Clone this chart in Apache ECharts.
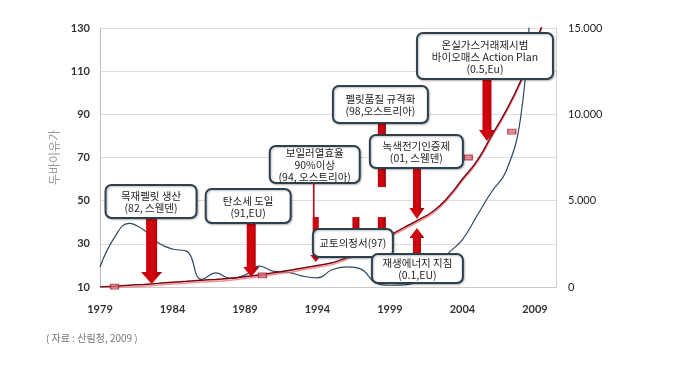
<!DOCTYPE html>
<html><head><meta charset="utf-8">
<script src="https://cdn.jsdelivr.net/npm/echarts@6/dist/echarts.min.js"></script>
<style>html,body{margin:0;padding:0;background:#fff}#c{width:683px;height:369px}</style>
</head><body><div id="c"></div>
<script>
// ---- data ----
const years = [1979,1980,1981,1982,1983,1984,1985,1986,1987,1988,1989,1990,1991,1992,1993,1994,1995,1996,1997,1998,1999,2000,2001,2002,2003,2004,2005,2006,2007,2008,2009,2010];
const oilPrice = [19.3,33,39.5,36.5,30.5,27.6,26.5,13.5,16.5,14,15.5,19.7,17.2,16.8,15,14.2,18,19.3,18.3,12,10.8,11,13,18,25.5,32,43,54,63.5,88,155,180];
const pelletProduction = [0,50,100,150,210,280,330,390,440,500,600,700,830,950,1100,1250,1400,1700,2050,2500,3000,3450,3900,4400,5200,6250,7300,8750,10200,11900,14000,16500];
const markerYears = [1980,1990.2,2004.4,2007.4];
const markerValues = [10.2,15.4,70,82];
const xTicks = [1979,1984,1989,1994,1999,2004,2009];
const leftAxisName = '두바이유가';
const sourceText = '( 자료 : 산림청, 2009 )';

const noteTexts = [
  '목재펠릿 생산\n(82, 스웬덴)',
  '탄소세 도일\n(91,EU)',
  '보일러열효율\n90%이상\n(94, 오스트리아)',
  '펠릿품질 규격화\n(98,오스트리아)',
  '녹색전기인증제\n(01, 스웬덴)',
  '교토의정서(97)',
  '재생에너지 지침\n(0.1,EU)',
  '온실가스거래제시범\n바이오매스 Action Plan\n(0.5,Eu)'
];
// annotation anchor (year, left-axis value) and box size
const noteYears = [1982.52,1989.22,1993.81,1998.34,2000.82,1996.44,2000.89,2005.55];
const noteValues = [49.6,47.5,66.75,94.55,72.8,30.4,18.6,117.0];
const noteSize = [[91,33],[85,34],[90,37],[95,37],[93,33],[80,28],[91,29],[136,46]];

// arrows: year, from value, to value (left axis) ; style [shaft, headW, headL]
const arrowYears = [1982.56,1989.43,1993.74,1993.88,1996.65,1998.44,1998.44,2000.86,2000.86,2005.69];
const arrowFrom  = [42.0,39.65,58.2,42.4,42.4,86.4,42.4,65.1,24.8,106.4];
const arrowTo    = [11.4,14.6,23.4,21.6,31.8,56.3,31.8,41.5,37.3,77.6];
const arrowStyle = [[11,21,12],[9,16,10],[1.6,0,0],[6,11,7],[7,0,0],[8,0,0],[8,0,0],[8,15,11],[8,15,10],[9,16,11]];

const chart = echarts.init(document.getElementById('c'));
const FONT = 'Lato';
const KR = '"Noto Sans CJK KR"';

function renderArrow(params, api) {
  const i = params.dataIndex;
  const a = api.coord([api.value(0), api.value(1)]);
  const b = api.coord([api.value(0), api.value(2)]);
  const st = arrowStyle[i];
  const x = a[0];
  const dir = b[1] > a[1] ? 1 : -1;
  const sw = st[0] / 2, hw = st[1] / 2, hl = st[2];
  let pts;
  if (hl > 0) {
    const by = b[1] - dir * hl;
    pts = [[x - sw, a[1]], [x + sw, a[1]], [x + sw, by], [x + hw, by], [x, b[1]], [x - hw, by], [x - sw, by]];
  } else {
    pts = [[x - sw, a[1]], [x + sw, a[1]], [x + sw, b[1]], [x - sw, b[1]]];
  }
  return {
    type: 'polygon', shape: { points: pts },
    style: { fill: new echarts.graphic.LinearGradient(0, 0, 1, 0, [
      { offset: 0, color: '#c00008' }, { offset: 0.55, color: '#d6060e' }, { offset: 1, color: '#8e0006' }]) }
  };
}

function renderNote(params, api) {
  const i = params.dataIndex;
  const c = api.coord([api.value(0), api.value(1)]);
  const w = noteSize[i][0], h = noteSize[i][1];
  return {
    type: 'group',
    children: [
      { type: 'rect', shape: { x: c[0] - w / 2, y: c[1] - h / 2, width: w, height: h, r: 6 },
        style: { fill: '#fff', stroke: '#2c404e', lineWidth: 2, shadowBlur: 2, shadowColor: 'rgba(0,0,0,0.25)', shadowOffsetX: 1, shadowOffsetY: 1 } },
      { type: 'text',
        style: { text: noteTexts[i], x: c[0], y: c[1] + 0.5, align: 'center', verticalAlign: 'middle',
          textAlign: 'center', textVerticalAlign: 'middle',
          font: '10.5px ' + KR, fill: '#1e1e1e', lineHeight: 12 } }
    ]
  };
}

chart.setOption({
  animation: false,
  grid: { left: 100, right: 127, top: 28, bottom: 82 },
  xAxis: {
    type: 'value', min: 1979, max: 2010.45,
    axisLine: { show: true, lineStyle: { color: '#c8c8c8' } },
    axisTick: { show: false },
    splitLine: { show: false },
    axisLabel: { customValues: xTicks, formatter: v => String(v), margin: 17, color: '#333', fontWeight: 'bold', fontSize: 11, fontFamily: FONT }
  },
  yAxis: [{
    type: 'value', min: 10, max: 130, interval: 20,
    axisLine: { show: true, lineStyle: { color: '#bdbdbd' } },
    axisTick: { show: false },
    splitLine: { lineStyle: { color: '#dedede' } },
    axisLabel: { margin: 10, color: '#333', fontWeight: 'bold', fontSize: 11, fontFamily: FONT },
    name: leftAxisName, nameLocation: 'middle', nameRotate: 90, nameGap: 34,
    nameTextStyle: { color: '#9a9a9a', fontSize: 12, fontFamily: KR }
  }, {
    type: 'value', min: 0, max: 15000, interval: 5000, position: 'right',
    axisLine: { show: true, lineStyle: { color: '#cfcfcf' } },
    axisTick: { show: false },
    splitLine: { show: false },
    axisLabel: { margin: 12, color: '#222', fontSize: 11, fontFamily: FONT, padding: [5, 0, 0, 0],
      formatter: v => String(v).replace(/\B(?=(\d{3})+(?!\d))/g, '.') }
  }],
  series: [
    { type: 'line', name: 'oil', yAxisIndex: 0, smooth: 0.45, showSymbol: false, z: 2,
      data: years.map((y, i) => [y, oilPrice[i]]),
      lineStyle: { color: '#2f4862', width: 1.2 } },
    { type: 'line', name: 'pellet', yAxisIndex: 1, smooth: true, showSymbol: false, z: 2,
      data: years.map((y, i) => [y, pelletProduction[i]]),
      lineStyle: { color: '#7a0614', width: 1.5, shadowColor: 'rgba(240,110,110,0.75)', shadowOffsetY: 1.8, shadowBlur: 0 } },
    { type: 'custom', yAxisIndex: 0, z: 3, renderItem: renderArrow, clip: false,
      encode: { x: 0, y: [1, 2] },
      data: arrowYears.map((y, i) => [y, arrowFrom[i], arrowTo[i]]) },
    { type: 'scatter', yAxisIndex: 0, z: 4, symbol: 'rect', symbolSize: [8, 5],
      data: markerYears.map((y, i) => [y, markerValues[i]]),
      itemStyle: { color: '#d9707c', borderColor: '#a32034', borderWidth: 1 } },
    { type: 'custom', yAxisIndex: 0, z: 5, renderItem: renderNote, clip: false,
      encode: { x: 0, y: 1 },
      data: noteYears.map((y, i) => [y, noteValues[i]]) }
  ],
  graphic: [{ type: 'text', left: 46, top: 333,
    style: { text: sourceText, font: '10px ' + KR, fill: '#777' } }]
});
</script></body></html>
